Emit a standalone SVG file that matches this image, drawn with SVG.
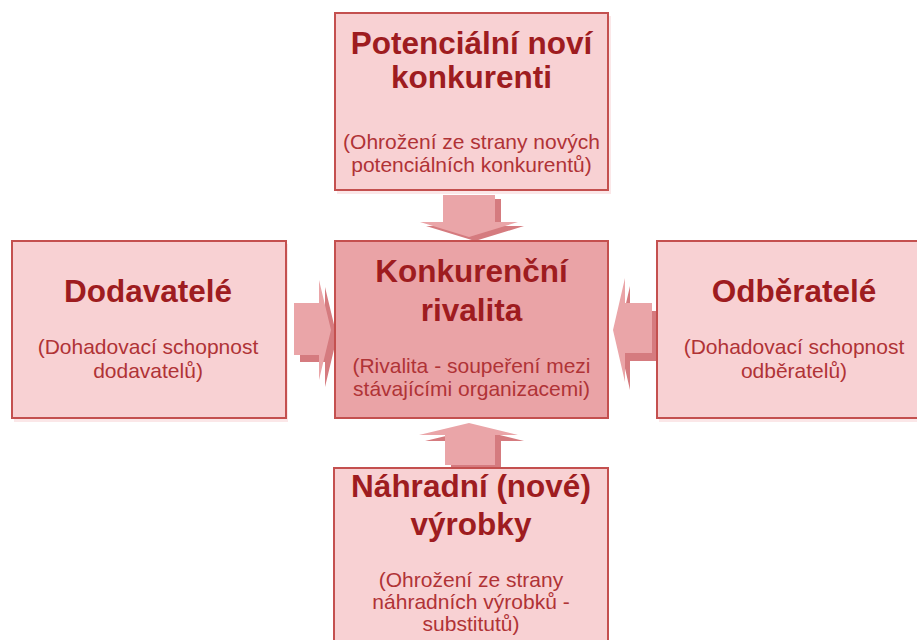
<svg xmlns="http://www.w3.org/2000/svg" width="917" height="640" viewBox="0 0 917 640">
<style>
.shadow{fill:#fbe7e8}
.box{fill:#f8d1d3;stroke:#c4504f;stroke-width:2}
.core{fill:#eaa3a6;stroke:#c4504f;stroke-width:2}
.t{font-family:"Liberation Sans",Arial,sans-serif;font-weight:bold;font-size:31.5px;fill:#9e1c20;text-anchor:middle}
.s{font-family:"Liberation Sans",Arial,sans-serif;font-size:21px;fill:#b03336;text-anchor:middle}
.al{fill:#eaa5a8}
.ad{fill:#d57b7f}
</style>
<rect width="917" height="640" fill="#ffffff"/>
<g id="connectors">
  <polygon class="ad" transform="translate(6,4)" points="443,195 495,195 495,222 518,222 469,237 420,222 443,222"/>
  <polygon class="al" points="443,195 495,195 495,222 518,222 469,237 420,222 443,222"/>
  <polygon class="ad" transform="translate(6,6)" points="469,423 518,435 495,435 495,465 445,465 445,435 419,435"/>
  <polygon class="al" points="469,423 518,435 495,435 495,465 445,465 445,435 419,435"/>
  <polygon class="ad" transform="translate(6,7)" points="294,303 319,303 319,280 331,330 319,380 319,355 294,355"/>
  <polygon class="al" points="294,303 319,303 319,280 331,330 319,380 319,355 294,355"/>
  <polygon class="ad" transform="translate(5,8)" points="652,303 625,303 625,278 613,330 625,382 625,353 652,353"/>
  <polygon class="al" points="652,303 625,303 625,278 613,330 625,382 625,353 652,353"/>
</g>
<g id="node-top">
  <rect class="shadow" x="337" y="16" width="274" height="178"/>
  <rect class="box" x="335" y="13" width="273" height="177"/>
  <text class="t" x="471.5" y="54">Potenciální noví</text>
  <text class="t" x="471.5" y="88">konkurenti</text>
  <text class="s" x="471.5" y="149">(Ohrožení ze strany nových</text>
  <text class="s" x="471.5" y="172">potenciálních konkurentů)</text>
</g>
<g id="node-center">
  <rect class="core" x="335" y="241" width="273" height="177"/>
  <text class="t" x="471.5" y="282">Konkurenční</text>
  <text class="t" x="471.5" y="321">rivalita</text>
  <text class="s" x="471.5" y="373">(Rivalita - soupeření mezi</text>
  <text class="s" x="471.5" y="396">stávajícími organizacemi)</text>
</g>
<g id="node-left">
  <rect class="shadow" x="14" y="244" width="274" height="178"/>
  <rect class="box" x="12" y="241" width="274" height="177"/>
  <text class="t" x="148" y="302">Dodavatelé</text>
  <text class="s" x="148" y="354">(Dohadovací schopnost</text>
  <text class="s" x="148" y="378">dodavatelů)</text>
</g>
<g id="node-right">
  <rect class="shadow" x="659" y="244" width="274" height="178"/>
  <rect class="box" x="657" y="241" width="274" height="177"/>
  <text class="t" x="794" y="302">Odběratelé</text>
  <text class="s" x="794" y="354">(Dohadovací schopnost</text>
  <text class="s" x="794" y="378">odběratelů)</text>
</g>
<g id="node-bottom">
  <rect class="box" x="334" y="468" width="274" height="190"/>
  <text class="t" x="471" y="497">Náhradní (nové)</text>
  <text class="t" x="471" y="535">výrobky</text>
  <text class="s" x="471" y="587">(Ohrožení ze strany</text>
  <text class="s" x="471" y="609">náhradních výrobků -</text>
  <text class="s" x="471" y="631">substitutů)</text>
</g>
</svg>
